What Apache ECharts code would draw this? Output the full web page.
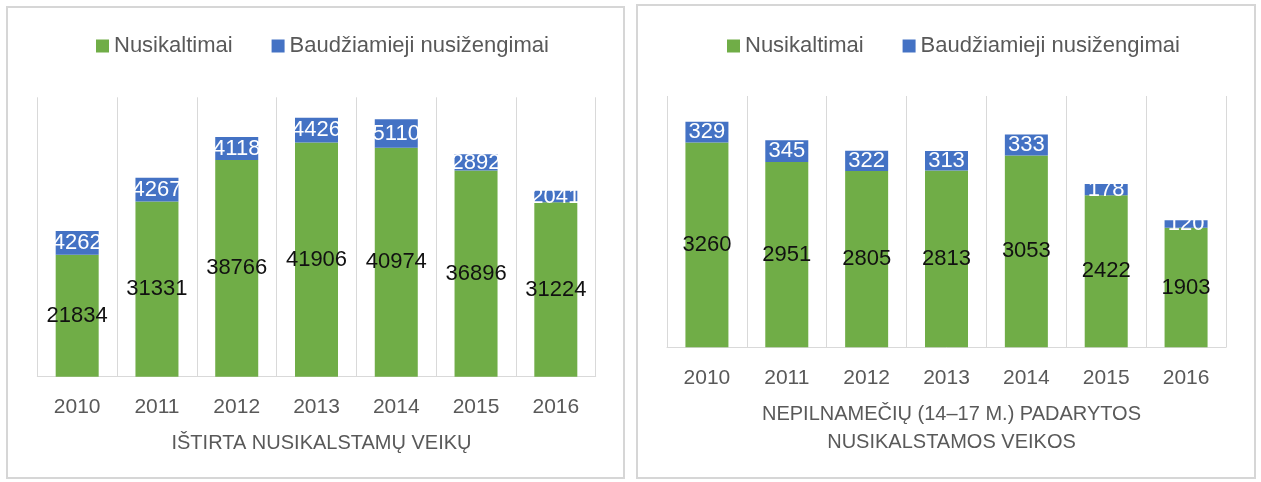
<!DOCTYPE html>
<html>
<head>
<meta charset="utf-8">
<script src="https://cdn.jsdelivr.net/npm/echarts@6/dist/echarts.min.js"></script>
<style>
html,body{margin:0;padding:0;background:#fff;}
#c{width:1261px;height:482px;}
</style>
</head>
<body>
<div id="c"></div>
<script>
const years = ['2010','2011','2012','2013','2014','2015','2016'];
const seriesNames = ['Nusikaltimai','Baudžiamieji nusižengimai'];
const leftCrimes = [21834,31331,38766,41906,40974,36896,31224];
const leftMisdemeanors = [4262,4267,4118,4426,5110,2892,2041];
const rightCrimes = [3260,2951,2805,2813,3053,2422,1903];
const rightMisdemeanors = [329,345,322,313,333,178,120];
const leftTitle = 'IŠTIRTA NUSIKALSTAMŲ VEIKŲ';
const rightTitle = 'NEPILNAMEČIŲ (14–17 M.) PADARYTOS\nNUSIKALSTAMOS VEIKOS';

const FONT = 'Liberation Sans';
const GREEN = '#70AD47', BLUE = '#4472C4', GRID = '#D9D9D9', TXT = '#595959';

const chart = echarts.init(document.getElementById('c'));

function xAx(gi){
  return {
    type:'category', gridIndex:gi, data:years,
    axisTick:{show:false},
    axisLine:{lineStyle:{color:GRID,width:1}},
    splitLine:{show:true, interval:0, lineStyle:{color:GRID,width:1}},
    axisLabel:{color:TXT, fontFamily:FONT, fontSize:21, margin:20, interval:0}
  };
}
function yAx(gi,max){
  return {type:'value', gridIndex:gi, min:0, max:max, show:false, splitLine:{show:false}};
}
function bar(name, gi, stack, data, color, labelColor){
  return {
    type:'bar', name:name, xAxisIndex:gi, yAxisIndex:gi, stack:stack,
    data:data, barWidth:43,
    itemStyle:{color:color},
    label:{show:true, position:'inside', color:labelColor, fontFamily:FONT, fontSize:22}
  };
}
function legend(left){
  return {
    left:left, top:35, padding:0, itemWidth:13, itemHeight:13, itemGap:39, icon:'rect',
    textStyle:{color:TXT, fontFamily:FONT, fontSize:22},
    data:seriesNames, selectedMode:false
  };
}

chart.setOption({
  animation:false,
  backgroundColor:'#fff',
  graphic:[
    {type:'rect', shape:{x:7,y:7,width:617,height:471}, style:{fill:'none',stroke:'#D6D6D6',lineWidth:2}, silent:true},
    {type:'rect', shape:{x:637,y:5,width:618,height:473}, style:{fill:'none',stroke:'#D6D6D6',lineWidth:2}, silent:true}
  ],
  title:[
    {text:leftTitle, left:316.5, top:428, textAlign:'center',
     textStyle:{color:TXT, fontFamily:FONT, fontSize:20, fontWeight:'normal', lineHeight:20}},
    {text:rightTitle, left:946.5, top:395, textAlign:'center',
     textStyle:{color:TXT, fontFamily:FONT, fontSize:20, fontWeight:'normal', lineHeight:28}}
  ],
  legend:[legend(96), legend(727)],
  grid:[
    {left:37.3, right:665.3, top:97.3, bottom:105.3},
    {left:667, right:35, top:96, bottom:134.7}
  ],
  xAxis:[xAx(0), xAx(1)],
  yAxis:[yAx(0,50000), yAx(1,4000)],
  series:[
    bar(seriesNames[0],0,'L',leftCrimes,GREEN,'#111'),
    bar(seriesNames[1],0,'L',leftMisdemeanors,BLUE,'#fff'),
    bar(seriesNames[0],1,'R',rightCrimes,GREEN,'#111'),
    bar(seriesNames[1],1,'R',rightMisdemeanors,BLUE,'#fff')
  ]
});
</script>
</body>
</html>
